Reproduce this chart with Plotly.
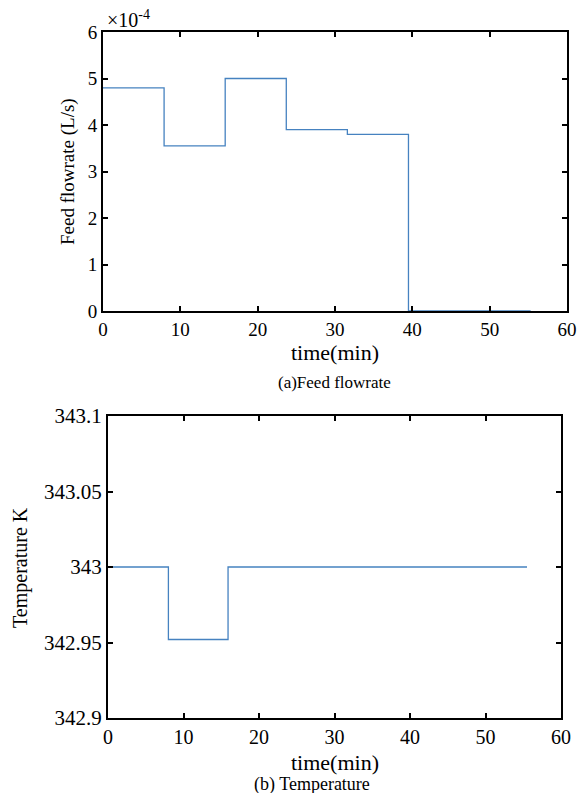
import plotly.graph_objects as go

# ---- data ----
flow_time_min = [0, 7.9, 15.8, 23.7, 31.6, 39.5, 55.3]
flow_e4_Ls = [4.8, 3.55, 5.0, 3.9, 3.8, 0.0, 0.0]   # in units of 1e-4 L/s

temp_time_min = [0, 8.0, 15.9, 55.5]
temp_K = [343.0, 342.952, 343.0, 343.0]

x_ticks = [0, 10, 20, 30, 40, 50, 60]
flow_ticks = [0, 1, 2, 3, 4, 5, 6]
temp_ticks = [342.9, 342.95, 343.0, 343.05, 343.1]
temp_ticktext = ["342.9", "342.95", "343", "343.05", "343.1"]

W, H = 579, 793
LINE = "#4682c0"
FONT = "Liberation Serif, Times New Roman, serif"

def px(x):
    return x / W

def py(y):
    return 1 - y / H

fig = go.Figure()
fig.add_trace(go.Scatter(x=flow_time_min, y=flow_e4_Ls, mode="lines",
                         line=dict(color=LINE, width=1.3, shape="hv"),
                         xaxis="x", yaxis="y", showlegend=False))
fig.add_trace(go.Scatter(x=temp_time_min, y=temp_K, mode="lines",
                         line=dict(color=LINE, width=1.3, shape="hv"),
                         xaxis="x2", yaxis="y2", showlegend=False))

axis_common = dict(showgrid=False, zeroline=False, showline=True, linecolor="black",
                   linewidth=2, mirror="allticks", ticks="inside", ticklen=5,
                   tickwidth=1.5, tickcolor="black", automargin=False)

fig.update_layout(
    width=W, height=H,
    margin=dict(l=0, r=0, t=0, b=0, pad=0, autoexpand=False),
    paper_bgcolor="white", plot_bgcolor="white",
    font=dict(family=FONT, color="black"),
    xaxis=dict(domain=[px(103), px(567)], range=[0, 60], tickvals=x_ticks,
               anchor="y", tickfont=dict(family=FONT, size=19), **axis_common),
    yaxis=dict(domain=[py(311), py(32)], range=[0, 6], tickvals=flow_ticks,
               anchor="x", tickfont=dict(family=FONT, size=19), **axis_common),
    xaxis2=dict(domain=[px(108), px(561)], range=[0, 60], tickvals=x_ticks,
                anchor="y2", tickfont=dict(family=FONT, size=20), **axis_common),
    yaxis2=dict(domain=[py(718), py(416)], range=[342.9, 343.1], tickvals=temp_ticks,
                ticktext=temp_ticktext, anchor="x2", tickfont=dict(family=FONT, size=21), **axis_common),
)

ann = [
    dict(text="×10<sup>-4</sup>", x=px(105), y=py(19), xanchor="left", yanchor="middle", font=dict(family=FONT, size=20)),
    dict(text="time(min)", x=px(335), y=py(352), xanchor="center", yanchor="middle", font=dict(family=FONT, size=22)),
    dict(text="(a)Feed flowrate", x=px(334), y=py(382), xanchor="center", yanchor="middle", font=dict(family=FONT, size=17)),
    dict(text="Feed flowrate (L/s)", x=px(68), y=py(172), xanchor="center", yanchor="middle", textangle=-90, font=dict(family=FONT, size=19)),
    dict(text="time(min)", x=px(335), y=py(762), xanchor="center", yanchor="middle", font=dict(family=FONT, size=22)),
    dict(text="(b) Temperature", x=px(312), y=py(784), xanchor="center", yanchor="middle", font=dict(family=FONT, size=18)),
    dict(text="Temperature K", x=px(20), y=py(568), xanchor="center", yanchor="middle", textangle=-90, font=dict(family=FONT, size=20)),
]
for a in ann:
    fig.add_annotation(xref="paper", yref="paper", showarrow=False, **a)

fig.write_html("out.html")
